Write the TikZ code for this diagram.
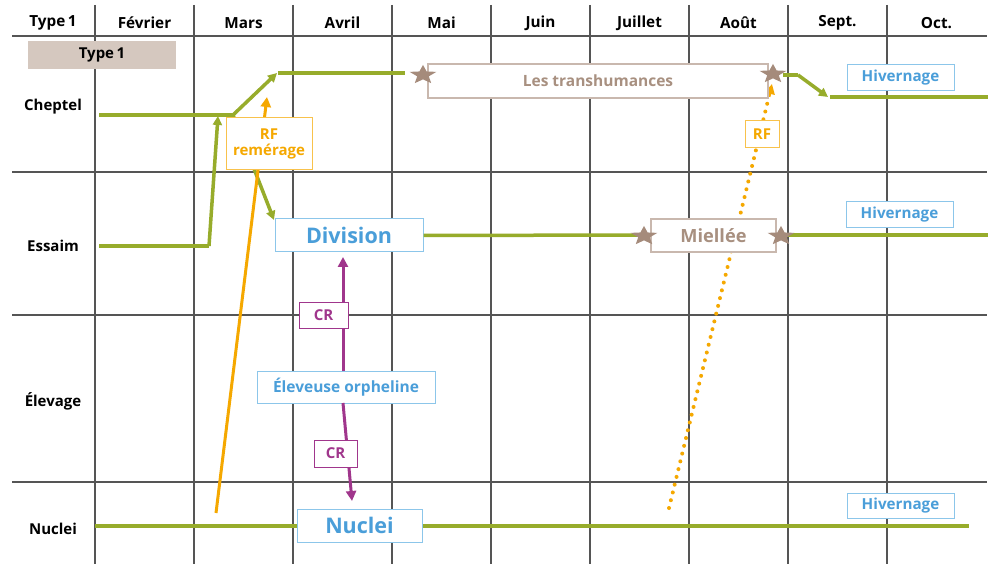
\documentclass[tikz,border=0pt]{standalone}
\usepackage{fontspec}
\setmainfont{Open Sans}
\usetikzlibrary{arrows.meta,shapes.geometric,calc}
\definecolor{gridc}{RGB}{85,85,85}
\definecolor{greenc}{RGB}{151,172,43}
\definecolor{orangec}{RGB}{245,168,0}
\definecolor{purplec}{RGB}{160,54,140}
\definecolor{bluet}{RGB}{74,158,217}
\definecolor{blueb}{RGB}{140,198,234}
\definecolor{starc}{RGB}{165,139,123}
\definecolor{transb}{RGB}{201,184,174}
\definecolor{transt}{RGB}{168,144,128}
\definecolor{typebg}{RGB}{213,200,191}
\newcommand{\fs}[1]{\fontsize{#1}{#1}\selectfont}
\begin{document}
\begin{tikzpicture}[x=1pt,y=-1pt,font=\bfseries,
  gridline/.style={draw=gridc,line width=1.2pt},
  head/.style={font=\bfseries\fs{15.3}},
  rowlab/.style={font=\bfseries\fs{15}},
  greenline/.style={draw=greenc,line width=3.5pt},
  gtip/.style={-{Triangle[length=9pt,width=9pt]}},
  bluebox/.style={draw=blueb,line width=1pt,fill=white,text=bluet,inner sep=0pt},
  orbox/.style={draw=orangec!70,line width=1pt,fill=white,text=orangec,inner sep=0pt,font=\bfseries\fs{15}},
  purbox/.style={draw=purplec,line width=1pt,fill=white,text=purplec,inner sep=0pt,font=\bfseries\fs{15}},
  brownbox/.style={draw=transb,line width=1.2pt,fill=white,text=transt,inner sep=0pt},
  starn/.style={star,star points=5,star point ratio=2.3,minimum size=28pt,inner sep=0pt,fill=starc,transform shape},
  purarrow/.style={draw=purplec,line width=3pt,-{Triangle[length=10pt,width=10pt]}},
  orarrow/.style={draw=orangec,line width=3pt,-{Triangle[length=10pt,width=10pt]}},
]
\useasboundingbox (0,0) rectangle (991,564);
\fill[white] (0,0) rectangle (991,564);
% grid
\foreach \k in {0,...,8}{
  \draw[gridline] ({95+99*\k},5) -- ({95+99*\k},564);
}
\foreach \y in {36,172,315,482}{
  \draw[gridline] (12,\y) -- (987,\y);
}
% headers
\node[head] (h0) at (53,23) {Type\,1};
\node[head] (h1) at (144.5,23) {Février};
\node[head] (h2) at (243.5,23) {Mars};
\node[head] (h3) at (342.5,23) {Avril};
\node[head] (h4) at (441.5,23) {Mai};
\node[head] (h5) at (540.5,23) {Juin};
\node[head] (h6) at (639.5,23) {Juillet};
\node[head] (h7) at (738.5,23) {Août};
\node[head] (h8) at (837.5,23) {Sept.};
\node[head] (h9) at (936.5,23) {Oct.};
% row labels
\node[rowlab] (r1) at (53,107) {Cheptel};
\node[rowlab] (r2) at (53,246) {Essaim};
\node[rowlab] (r3) at (53,401) {Élevage};
\node[rowlab] (r4) at (53,529) {Nuclei};
% type box
\node[fill=typebg,minimum width=148pt,minimum height=28pt,inner sep=0pt,font=\bfseries\fs{15}] (typebox) at (102,55) {Type\,1};
% coordinates
\coordinate (c1) at (99,115);
\coordinate (c2) at (233,115);
\coordinate (c3) at (277,73);
\coordinate (c4) at (278,73);
\coordinate (c5) at (405,73);
\coordinate (c6) at (783,75);
\coordinate (c7) at (798,75);
\coordinate (c8) at (828,97);
\coordinate (c9) at (830,97);
\coordinate (c10) at (988,97);
\coordinate (e1) at (99,246);
\coordinate (e2) at (209,246);
\coordinate (e3) at (218,116);
\coordinate (e4) at (988,235);
\coordinate (n1) at (95,526);
\coordinate (n2) at (969,526);
\coordinate (o1) at (216,513);
\coordinate (o2) at (267,97);
\coordinate (d1) at (669,508);
\coordinate (d2) at (772,84);
\coordinate (divtl) at (274,220);
% green lines (behind boxes)
\draw[greenline] (c1) -- (c2);
\draw[greenline,gtip] (c2) -- (c3);
\draw[greenline] (c4) -- (c5);
\draw[greenline] (c6) -- (c7);
\draw[greenline,gtip] (c7) -- (c8);
\draw[greenline] (c9) -- (c10);
\draw[greenline] (e1) -- (e2);
\draw[greenline,gtip] (e2) -- (e3);
\draw[greenline,gtip] (c2) -- (divtl);
\draw[greenline] (n1) -- (n2);
% orange
\draw[orarrow] (o1) -- (o2);
\coordinate (d3) at ($(d1)!0.97!(d2)$);
\draw[draw=orangec,line width=4pt,dash pattern=on 0pt off 8pt,line cap=round] (d1) -- (d3);
\draw[draw=orangec,line width=3pt,-{Triangle[length=10pt,width=10pt]}] (d3) -- (d2);
% boxes
\node[brownbox,minimum width=340pt,minimum height=34pt,font=\bfseries\fs{15.5}] (trans) at (598,81) {Les transhumances};
\begin{scope}[shift={(423,75)},yscale=0.72]
\node[starn] (s1) at (0,0) {};
\end{scope}
\begin{scope}[shift={(773,74)},yscale=0.72]
\node[starn] (s2) at (0,0) {};
\end{scope}
\node[bluebox,minimum width=107pt,minimum height=26pt,font=\bfseries\fs{15.2}] (hiv1) at (900.5,78) {Hivernage};
\node[orbox,minimum width=86pt,minimum height=52pt,align=center] (rfr) at (269,144) {RF\\[1pt]remérage};
\node[bluebox,minimum width=148pt,minimum height=33pt,font=\bfseries\fs{21.5}] (div) at (349,235.5) {Division};
\draw[greenline] (div.east) -- (644,235);
\node[brownbox,minimum width=125pt,minimum height=33pt,font=\bfseries\fs{18.2}] (miel) at (713.5,235.5) {Miellée};
\draw[greenline] (781,235) -- (e4);
\begin{scope}[shift={(644,236)},yscale=0.72]
\node[starn] (s3) at (0,0) {};
\end{scope}
\begin{scope}[shift={(781,236)},yscale=0.72]
\node[starn] (s4) at (0,0) {};
\end{scope}
\node[bluebox,minimum width=107pt,minimum height=26pt,font=\bfseries\fs{15.2}] (hiv2) at (899.5,215) {Hivernage};
\node[bluebox,minimum width=178pt,minimum height=32pt,font=\bfseries\fs{15.5}] (elev) at (346,387) {Éleveuse orpheline};
\node[bluebox,minimum width=125pt,minimum height=33pt,font=\bfseries\fs{21.5}] (nuc) at (359.5,525.5) {Nuclei};
\node[bluebox,minimum width=107pt,minimum height=25pt,font=\bfseries\fs{15.2}] (hiv3) at (900.5,505.5) {Hivernage};
% purple arrows
\coordinate (p1) at (343,371);
\coordinate (p2) at (343,257);
\coordinate (p3) at (343,403);
\coordinate (p4) at (352,501);
\draw[purarrow] (p1) -- (p2);
\draw[purarrow] (p3) -- (p4);
\node[purbox,minimum width=49pt,minimum height=26pt] (cr1) at (323.5,315) {CR};
\node[purbox,minimum width=43pt,minimum height=27pt] (cr2) at (335.5,453.5) {CR};
\node[orbox,minimum width=34pt,minimum height=27pt] (rf2) at (762,134.5) {RF};
\end{tikzpicture}
\end{document}
